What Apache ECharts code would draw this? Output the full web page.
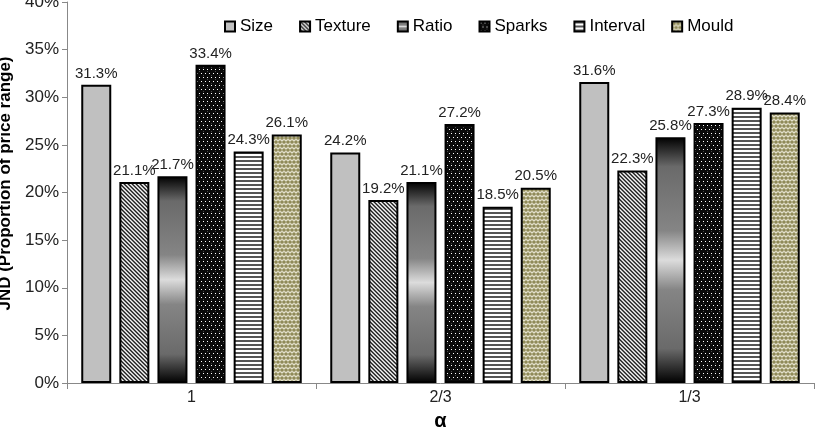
<!DOCTYPE html>
<html>
<head>
<meta charset="utf-8">
<script src="https://cdn.jsdelivr.net/npm/echarts@6/dist/echarts.min.js"></script>
<style>html,body{margin:0;padding:0;background:#fff}#c{width:818px;height:434px}</style>
</head>
<body>
<div id="c"></div>
<script>
const categories = ['1', '2/3', '1/3'];
const seriesNames = ['Size', 'Texture', 'Ratio', 'Sparks', 'Interval', 'Mould'];
const sizeVals = [31.3, 24.2, 31.6];
const textureVals = [21.1, 19.2, 22.3];
const ratioVals = [21.7, 21.1, 25.8];
const sparksVals = [33.4, 27.2, 27.3];
const intervalVals = [24.3, 18.5, 28.9];
const mouldVals = [26.1, 20.5, 28.4];
const yTicks = { min: 0, max: 40, interval: 5 };

function makeCanvas(w, h, draw) {
  const c = document.createElement('canvas');
  c.width = w; c.height = h;
  draw(c.getContext('2d'));
  return c;
}
const texturePat = makeCanvas(4, 4, ctx => {
  for (let y = 0; y < 4; y++) for (let x = 0; x < 4; x++) {
    const m = ((x - y) % 4 + 4) % 4;
    ctx.fillStyle = m === 0 ? '#222' : (m === 1 ? '#666' : (m === 2 ? '#f2f2f2' : '#b0b0b0'));
    ctx.fillRect(x, y, 1, 1);
  }
});
const sparksPat = makeCanvas(8, 8, ctx => {
  ctx.fillStyle = '#0a0a0a'; ctx.fillRect(0, 0, 8, 8);
  ctx.fillStyle = '#444';
  ctx.fillRect(3, 3, 1, 1); ctx.fillRect(7, 7, 1, 1);
  ctx.fillStyle = '#fff';
  ctx.fillRect(1, 1, 1, 1); ctx.fillRect(5, 1, 1, 1);
  ctx.fillRect(3, 5, 1, 1); ctx.fillRect(7, 5, 1, 1);
});
const intervalPat = makeCanvas(4, 4, ctx => {
  ctx.fillStyle = '#fff'; ctx.fillRect(0, 0, 4, 4);
  ctx.fillStyle = '#555'; ctx.fillRect(0, 0, 4, 2);
});
const mouldPat = makeCanvas(8, 8, ctx => {
  ctx.fillStyle = '#f2f0e0'; ctx.fillRect(0, 0, 8, 8);
  ctx.fillStyle = '#8f8a58';
  const dots = [[2, 2], [6, 2], [0, 6], [4, 6], [8, 6]];
  dots.forEach(([x, y]) => { ctx.beginPath(); ctx.arc(x, y, 1.85, 0, Math.PI * 2); ctx.fill(); });
});

const fills = [
  '#c0c0c0',
  { image: texturePat, repeat: 'repeat' },
  { type: 'linear', x: 0, y: 0, x2: 0, y2: 1, colorStops: [
    { offset: 0, color: '#000' }, { offset: 0.12, color: '#6a6a6a' },
    { offset: 0.38, color: '#858585' }, { offset: 0.5, color: '#dcdcdc' },
    { offset: 0.62, color: '#858585' }, { offset: 0.86, color: '#6a6a6a' },
    { offset: 1, color: '#000' }] },
  { image: sparksPat, repeat: 'repeat' },
  { image: intervalPat, repeat: 'repeat' },
  { image: mouldPat, repeat: 'repeat' }
];
const allVals = [sizeVals, textureVals, ratioVals, sparksVals, intervalVals, mouldVals];
const font = 'Liberation Sans, Arial, sans-serif';

const chart = echarts.init(document.getElementById('c'));
chart.setOption({
  animation: false,
  textStyle: { fontFamily: font },
  legend: {
    top: 13, left: 219, itemWidth: 10, itemHeight: 10, itemGap: 26,
    icon: 'rect',
    textStyle: { fontSize: 17, color: '#000', fontFamily: font },
    data: seriesNames
  },
  grid: { left: 67, right: 4, top: 2, bottom: 51, containLabel: false, outerBoundsMode: 'none' },
  xAxis: {
    type: 'category', data: categories,
    name: 'α', nameLocation: 'middle', nameGap: 28,
    nameTextStyle: { fontSize: 20, fontWeight: 'bold', color: '#000', fontFamily: font },
    axisLine: { lineStyle: { color: '#888', width: 1 } },
    axisTick: { show: true, length: 6, lineStyle: { color: '#888' } },
    axisLabel: { fontSize: 16, color: '#222', margin: 7 }
  },
  yAxis: {
    type: 'value', min: yTicks.min, max: yTicks.max, interval: yTicks.interval,
    name: 'JND (Proportion of price range)', nameLocation: 'middle', nameGap: 50, nameRotate: 90,
    nameTextStyle: { fontSize: 17, fontWeight: 'bold', color: '#000', fontFamily: font, padding: [0, 0, 0, 18] },
    axisLine: { show: true, lineStyle: { color: '#888' } },
    axisTick: { show: true, length: 5, lineStyle: { color: '#888' } },
    splitLine: { show: false },
    axisLabel: { formatter: '{value}%', fontSize: 17, color: '#222', margin: 8 }
  },
  series: seriesNames.map((n, i) => ({
    name: n, type: 'bar', data: allVals[i],
    barWidth: 30, barGap: '27%',
    itemStyle: { color: fills[i], borderColor: '#000', borderWidth: 2 },
    label: { show: true, position: 'top', distance: 4, formatter: p => p.value.toFixed(1) + '%',
      fontSize: 15, color: '#222', fontFamily: font }
  }))
});
</script>
</body>
</html>
